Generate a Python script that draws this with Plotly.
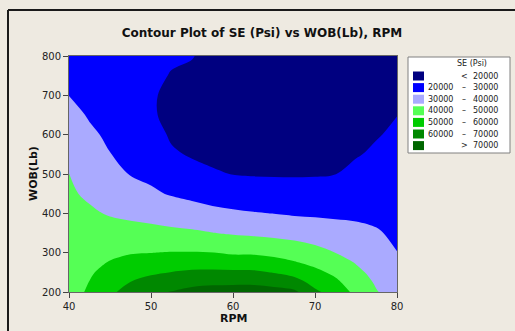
import plotly.graph_objects as go

# Grid of the fitted response surface (RPM across, WOB up)
rpm = [40, 42.5, 45, 47.5, 50, 52.5, 55, 57.5, 60, 62.5, 65, 67.5, 70, 72.5, 75, 77.5, 80]
wob = [200, 225, 250, 275, 300, 350, 400, 450, 500, 550, 600, 650, 700, 750, 800]

# SE in thousands of psi, one row per WOB value
se_k = [
    [46.0, 51.4, 58.2, 63.6, 68.0, 70.4, 73.0, 74.4, 74.7, 74.9, 73.7, 72.0, 61.7, 56.0, 47.5, 40.5, 36.0],
    [45.5, 50.2, 55.6, 60.1, 63.2, 65.3, 67.2, 67.9, 68.2, 68.1, 66.6, 63.7, 57.0, 51.9, 44.8, 38.9, 34.5],
    [45.0, 48.9, 53.1, 56.4, 58.6, 60.2, 61.4, 61.8, 61.6, 61.4, 59.5, 56.7, 52.3, 47.9, 42.1, 37.2, 33.1],
    [44.5, 47.6, 50.5, 52.9, 54.2, 55.3, 55.9, 55.8, 55.0, 54.9, 53.3, 50.7, 47.6, 43.9, 39.5, 35.6, 31.6],
    [44.0, 46.3, 48.1, 49.4, 49.9, 50.4, 50.4, 50.2, 48.8, 48.7, 47.4, 45.6, 43.0, 39.9, 37.1, 33.9, 30.1],
    [43.0, 43.8, 43.5, 43.3, 42.9, 42.1, 41.4, 40.2, 39.1, 38.3, 37.5, 36.5, 35.2, 33.8, 32.3, 30.7, 28.6],
    [42.1, 41.2, 39.3, 38.0, 36.8, 35.3, 33.9, 32.3, 31.3, 30.5, 29.8, 29.0, 28.7, 28.4, 28.4, 28.2, 27.1],
    [41.1, 38.7, 36.2, 33.6, 31.3, 29.3, 27.7, 26.2, 25.2, 24.4, 24.0, 23.7, 23.6, 24.1, 25.3, 25.9, 25.7],
    [40.1, 36.3, 33.2, 29.6, 28.2, 25.2, 22.8, 20.9, 19.8, 19.4, 19.3, 19.3, 19.4, 19.9, 22.2, 23.6, 24.2],
    [37.7, 33.8, 30.2, 27.4, 25.9, 21.1, 19.2, 18.2, 17.5, 17.1, 16.8, 16.8, 17.1, 17.7, 19.4, 21.3, 22.8],
    [35.1, 31.3, 28.7, 25.1, 23.6, 18.9, 17.3, 16.1, 15.3, 14.8, 14.4, 14.4, 14.8, 15.6, 17.2, 19.5, 21.3],
    [32.5, 29.3, 27.2, 22.9, 21.3, 17.3, 15.5, 14.0, 13.0, 12.5, 12.0, 12.0, 12.5, 13.5, 15.0, 18.2, 19.9],
    [29.9, 27.7, 25.8, 22.2, 20.9, 18.2, 17.1, 15.3, 14.0, 13.3, 12.7, 12.7, 13.0, 14.0, 15.7, 17.0, 19.1],
    [27.5, 26.1, 24.4, 22.6, 21.7, 19.6, 18.7, 16.7, 15.0, 14.2, 13.3, 13.3, 13.5, 14.5, 16.3, 17.5, 18.3],
    [25.0, 24.5, 23.0, 23.0, 22.5, 21.0, 20.3, 18.0, 16.0, 15.0, 14.0, 14.0, 14.0, 15.0, 17.0, 18.0, 17.5],
]

levels = [20000, 30000, 40000, 50000, 60000, 70000]
band_colors = ["#000080", "#0000FF", "#AAAAFF", "#55FF55", "#00CC00", "#008800", "#006600"]
x_ticks = [40, 50, 60, 70, 80]
y_ticks = [200, 300, 400, 500, 600, 700, 800]

W, H = 515, 331
L, R, T, B = 69, 397, 56, 292  # plot area edges in pixels
BG = "#EEEAE1"
FONT = "DejaVu Sans"

se = [[v * 1000 for v in row] for row in se_k]
step = levels[1] - levels[0]
n = len(band_colors) - 1
colorscale = [[i / n, c] for i, c in enumerate(band_colors)]

fig = go.Figure(go.Contour(
    x=rpm, y=wob, z=se,
    contours=dict(start=levels[0], end=levels[-1], size=step, coloring="fill"),
    colorscale=colorscale,
    line=dict(width=0, smoothing=1.0),
    showscale=False,
    hoverinfo="skip",
))


def px(x):
    return (x - L) / (R - L)


def py(y):
    return (B - y) / (B - T)


shapes = []
annotations = []

# outer frame strokes on the left and top
shapes.append(dict(type="line", xref="paper", yref="paper", x0=px(8), x1=px(8), y0=py(10), y1=py(H + 2),
                   line=dict(color="#1a1a1a", width=2)))
shapes.append(dict(type="line", xref="paper", yref="paper", x0=px(8), x1=px(W + 2), y0=py(10), y1=py(10),
                   line=dict(color="#1a1a1a", width=2)))

# legend box
lx0, lx1, ly0, ly1 = 408, 510, 57, 153
shapes.append(dict(type="rect", xref="paper", yref="paper", x0=px(lx0), x1=px(lx1), y0=py(ly1), y1=py(ly0),
                   fillcolor="white", line=dict(color="#808080", width=1)))
annotations.append(dict(text="SE (Psi)", xref="paper", yref="paper", x=px(472), y=py(63),
                        xanchor="center", yanchor="middle", showarrow=False,
                        font=dict(family=FONT, size=8, color="#222")))
row_h = 11.6
for i, c in enumerate(band_colors):
    yc = 76 + i * row_h
    shapes.append(dict(type="rect", xref="paper", yref="paper", x0=px(413), x1=px(424),
                       y0=py(yc + 4.5), y1=py(yc - 4.5), fillcolor=c, line=dict(width=0)))
    if i == 0:
        left, mid, right = "", "<", f"{levels[0]}"
    elif i == n:
        left, mid, right = "", ">", f"{levels[-1]}"
    else:
        left, mid, right = f"{levels[i - 1]}", "\u2013", f"{levels[i]}"
    f = dict(family=FONT, size=8, color="#222")
    if left:
        annotations.append(dict(text=left, xref="paper", yref="paper", x=px(455), y=py(yc),
                                xanchor="right", yanchor="middle", showarrow=False, font=f))
    annotations.append(dict(text=mid, xref="paper", yref="paper", x=px(464), y=py(yc),
                            xanchor="center", yanchor="middle", showarrow=False, font=f))
    annotations.append(dict(text=right, xref="paper", yref="paper", x=px(500), y=py(yc),
                            xanchor="right", yanchor="middle", showarrow=False, font=f))

# axis titles
annotations.append(dict(text="<b>RPM</b>", xref="paper", yref="paper", x=px((L + R) / 2), y=py(318),
                        xanchor="center", yanchor="middle", showarrow=False,
                        font=dict(family=FONT, size=11, color="#111")))
annotations.append(dict(text="<b>WOB(Lb)</b>", xref="paper", yref="paper", x=px(33), y=py((T + B) / 2),
                        xanchor="center", yanchor="middle", showarrow=False, textangle=-90,
                        font=dict(family=FONT, size=11, color="#111")))

axis_common = dict(showline=True, linecolor="#666", linewidth=1, mirror=True, ticks="outside",
                   ticklen=5, tickcolor="#444", showgrid=False, zeroline=False,
                   tickfont=dict(family=FONT, size=10, color="#222"))

fig.update_layout(
    width=W, height=H,
    margin=dict(l=L, r=W - R, t=T, b=H - B, pad=0),
    paper_bgcolor=BG, plot_bgcolor=BG,
    title=dict(text="<b>Contour Plot of SE (Psi) vs WOB(Lb), RPM</b>", x=262 / W, y=1 - 33 / H,
               xanchor="center", yanchor="middle", xref="container", yref="container",
               font=dict(family=FONT, size=12, color="#111")),
    xaxis=dict(range=[rpm[0], rpm[-1]], tickvals=x_ticks, **axis_common),
    yaxis=dict(range=[wob[0], wob[-1]], tickvals=y_ticks, **axis_common),
    shapes=shapes,
    annotations=annotations,
)

fig.write_html("out.html")
